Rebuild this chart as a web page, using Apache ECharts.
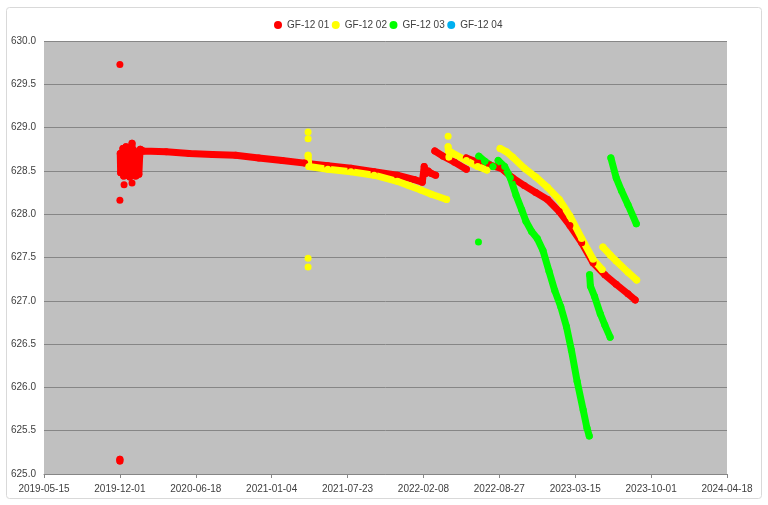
<!DOCTYPE html>
<html>
<head>
<meta charset="utf-8">
<script src="https://cdn.jsdelivr.net/npm/echarts@6/dist/echarts.min.js"></script>
<style>
  html, body { margin: 0; padding: 0; background: #ffffff; }
  #chart { width: 768px; height: 505px; }
</style>
</head>
<body>
<div id="chart"></div>
<script>
// ---- data (date, level); null separates unconnected runs of points ----
const seriesNames = ['GF-12 01', 'GF-12 02', 'GF-12 03', 'GF-12 04'];
const seriesColors = ['#FF0000', '#FFFF00', '#00FF00', '#00B0F0'];

const gf01 = [
  ['2019-12-01', 629.73], null,
  ['2019-12-01', 628.16], null,
  ['2019-12-01', 625.17], ['2019-12-01', 625.15], null,
  ['2019-12-12', 628.34], null,
  ['2020-01-02', 628.36], null,
  ['2019-12-02', 628.70], ['2019-12-03', 628.48], ['2019-12-05', 628.64], ['2019-12-07', 628.52],
  ['2019-12-09', 628.76], ['2019-12-11', 628.44], ['2019-12-13', 628.68], ['2019-12-15', 628.50],
  ['2019-12-17', 628.78], ['2019-12-19', 628.45], ['2019-12-21', 628.72], ['2019-12-23', 628.48],
  ['2019-12-25', 628.77], ['2019-12-27', 628.43], ['2019-12-29', 628.70], ['2019-12-31', 628.46],
  ['2020-01-02', 628.82], ['2020-01-04', 628.50], ['2020-01-06', 628.74], ['2020-01-08', 628.45],
  ['2020-01-10', 628.68], ['2020-01-12', 628.44], ['2020-01-14', 628.70], ['2020-01-16', 628.48],
  ['2020-01-18', 628.62], ['2020-01-20', 628.46], ['2020-01-22', 628.66], ['2020-01-24', 628.75],
  ['2020-02-01', 628.73], ['2020-04-01', 628.72], ['2020-06-01', 628.70], ['2020-08-01', 628.69],
  ['2020-10-01', 628.68], ['2020-12-01', 628.65], ['2021-02-01', 628.62], ['2021-04-01', 628.59],
  ['2021-06-01', 628.56], ['2021-08-01', 628.53], ['2021-10-01', 628.49], ['2021-12-01', 628.45],
  ['2022-01-15', 628.40], ['2022-02-05', 628.37], ['2022-02-10', 628.55], ['2022-02-14', 628.47],
  ['2022-02-20', 628.50], ['2022-03-01', 628.47], ['2022-03-12', 628.45], null,
  ['2022-03-10', 628.73], ['2022-04-01', 628.67], ['2022-05-01', 628.60], ['2022-06-01', 628.52], null,
  ['2022-06-01', 628.65], ['2022-07-01', 628.60], ['2022-08-01', 628.57], ['2022-09-01', 628.53],
  ['2022-10-01', 628.42], ['2022-11-01', 628.33], ['2022-12-01', 628.25], ['2023-01-01', 628.17],
  ['2023-02-01', 628.03], ['2023-03-01', 627.87], ['2023-04-01', 627.67], ['2023-05-01', 627.44],
  ['2023-06-01', 627.30], ['2023-07-01', 627.19], ['2023-08-01', 627.08], ['2023-08-20', 627.01]
];

const gf02 = [
  ['2021-04-10', 628.95], null,
  ['2021-04-10', 628.87], null,
  ['2021-04-10', 627.49], null,
  ['2021-04-10', 627.39], null,
  ['2021-04-10', 628.68], ['2021-04-12', 628.55], ['2021-06-01', 628.52], ['2021-08-01', 628.49],
  ['2021-10-01', 628.45], ['2021-12-01', 628.38], ['2022-01-01', 628.33], ['2022-02-01', 628.28],
  ['2022-03-01', 628.23], ['2022-04-10', 628.17], null,
  ['2022-04-14', 628.90], null,
  ['2022-04-14', 628.78], ['2022-04-16', 628.66], ['2022-04-20', 628.72], ['2022-06-01', 628.62],
  ['2022-07-01', 628.55], ['2022-07-25', 628.51], null,
  ['2022-08-29', 628.76], ['2022-09-15', 628.72], ['2022-10-01', 628.66], ['2022-11-01', 628.53],
  ['2022-12-01', 628.43], ['2023-01-01', 628.31], ['2023-02-01', 628.17], ['2023-03-01', 627.98],
  ['2023-04-01', 627.72], ['2023-05-01', 627.48], ['2023-05-25', 627.36], null,
  ['2023-05-27', 627.62], ['2023-06-15', 627.53], ['2023-07-01', 627.46], ['2023-08-01', 627.33],
  ['2023-08-24', 627.24]
];

const gf03 = [
  ['2022-07-03', 627.68], null,
  ['2022-07-04', 628.67], ['2022-07-20', 628.61], ['2022-08-10', 628.55], null,
  ['2022-08-24', 628.62], ['2022-09-10', 628.55], ['2022-09-25', 628.42], ['2022-10-10', 628.22],
  ['2022-10-25', 628.05], ['2022-11-05', 627.92], ['2022-11-20', 627.80], ['2022-12-05', 627.72],
  ['2022-12-20', 627.58], ['2023-01-05', 627.34], ['2023-01-20', 627.12], ['2023-02-05', 626.93],
  ['2023-02-20', 626.70], ['2023-03-05', 626.43], ['2023-03-20', 626.07], ['2023-04-05', 625.74],
  ['2023-04-15', 625.53], ['2023-04-21', 625.44], null,
  ['2023-04-22', 627.30], ['2023-04-24', 627.17], ['2023-05-05', 627.05], ['2023-05-20', 626.85],
  ['2023-06-01', 626.72], ['2023-06-15', 626.58], null,
  ['2023-06-17', 628.65], ['2023-07-01', 628.42], ['2023-07-15', 628.27], ['2023-08-01', 628.11],
  ['2023-08-23', 627.89]
];

const gf04 = [];

// axis settings (Excel-style date serials)
const xMinDate = '2019-05-15';
const xMaxDate = '2024-04-18';
const xStepDays = 200;
const yMin = 625.0, yMax = 630.0, yStep = 0.5;

// ---- helpers ----
const EPOCH = Date.UTC(1899, 11, 30);
function toSerial(s) {
  const p = s.split('-').map(Number);
  return Math.round((Date.UTC(p[0], p[1] - 1, p[2]) - EPOCH) / 86400000);
}
function fromSerial(n) {
  return new Date(EPOCH + Math.round(n) * 86400000).toISOString().slice(0, 10);
}
function splitRuns(arr) {
  const runs = [];
  let cur = [];
  arr.forEach(p => {
    if (p === null) { if (cur.length) runs.push(cur); cur = []; }
    else cur.push([toSerial(p[0]), p[1]]);
  });
  if (cur.length) runs.push(cur);
  return runs;
}

const allData = [gf01, gf02, gf03, gf04];
const series = [];
allData.forEach((arr, i) => {
  const runs = splitRuns(arr);
  if (!runs.length) runs.push([]);
  runs.forEach(run => {
    series.push({
      type: 'line',
      name: seriesNames[i],
      data: run,
      symbol: 'circle',
      symbolSize: 7,
      showSymbol: true,
      color: seriesColors[i],
      itemStyle: { color: seriesColors[i] },
      lineStyle: { color: seriesColors[i], width: 7, cap: 'round', join: 'round' },
      emphasis: { disabled: true },
      silent: true,
      animation: false
    });
  });
});

const chart = echarts.init(document.getElementById('chart'), null, { renderer: 'canvas' });
chart.setOption({
  backgroundColor: '#ffffff',
  animation: false,
  textStyle: { fontFamily: 'Liberation Sans, Arial, sans-serif' },
  graphic: [{
    type: 'rect',
    shape: { x: 6.5, y: 7.5, width: 755, height: 491, r: 3 },
    style: { fill: 'none', stroke: '#d9d9d9', lineWidth: 1 },
    silent: true, z: -10
  }],
  legend: {
    data: seriesNames,
    top: 15,
    left: 269,
    icon: 'circle',
    itemWidth: 8,
    itemHeight: 8,
    itemGap: 2.5,
    textStyle: { fontSize: 10, color: '#404040', fontFamily: 'Liberation Sans, Arial, sans-serif' },
    selectedMode: false
  },
  grid: {
    left: 44, right: 41, top: 41, bottom: 31,
    show: true, backgroundColor: '#C0C0C0', borderWidth: 0
  },
  xAxis: {
    type: 'value',
    min: toSerial(xMinDate),
    max: toSerial(xMaxDate),
    interval: xStepDays,
    splitLine: { show: false },
    axisLine: { show: true, lineStyle: { color: '#868686', width: 1 } },
    axisTick: { show: true, length: 4, lineStyle: { color: '#868686' } },
    axisLabel: {
      formatter: v => fromSerial(v),
      fontSize: 10, color: '#404040', margin: 10,
      showMinLabel: true, showMaxLabel: true
    }
  },
  yAxis: {
    type: 'value',
    min: yMin, max: yMax, interval: yStep,
    axisLine: { show: false },
    axisTick: { show: false },
    splitLine: { show: true, lineStyle: { color: '#868686', width: 1 } },
    axisLabel: { formatter: v => v.toFixed(1), fontSize: 10, color: '#404040', margin: 8 }
  },
  series: series
});
</script>
</body>
</html>
